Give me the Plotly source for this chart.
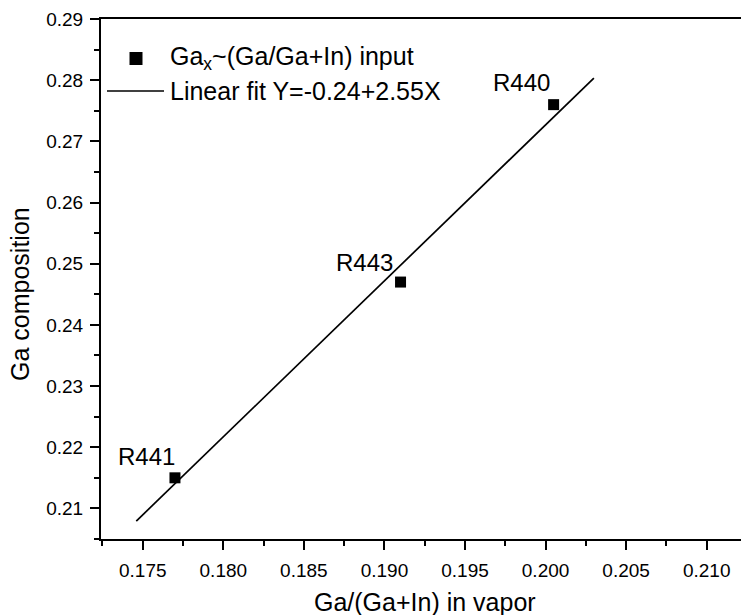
import numpy as np
import plotly.graph_objects as go

# Ga fraction in the vapour phase vs. Ga composition of the grown layers
sample_names = ["R441", "R443", "R440"]
vapor_ga_ratio = [0.1770, 0.1910, 0.2005]
ga_composition = [0.215, 0.247, 0.276]

# Linear fit Y = a + bX and the x span covered by the fit line
fit_intercept = -0.2373
fit_slope = 2.55
fit_x_span = [0.1746, 0.2030]

x_tick_values = [0.175, 0.180, 0.185, 0.190, 0.195, 0.200, 0.205, 0.210]
y_tick_values = [0.21, 0.22, 0.23, 0.24, 0.25, 0.26, 0.27, 0.28, 0.29]

x_title = "Ga/(Ga+In) in vapor"
y_title = "Ga composition"
points_legend = "Ga<sub>x</sub>~(Ga/Ga+In) input"
fit_legend = f"Linear fit Y={fit_intercept:.2f}+{fit_slope:.2f}X"

# ---- page geometry (pixels) ----
W, H = 741, 615
ML, MR, MT, MB = 101, 0, 19, 76
PW, PH = W - ML - MR, H - MT - MB
FONT = "Liberation Sans, Arial, sans-serif"


def px(x):
    return (x - ML) / PW


def py(y):
    return (H - MB - y) / PH


fit_x = np.array(fit_x_span)
fit_y = fit_intercept + fit_slope * fit_x

fig = go.Figure()

fig.add_trace(go.Scatter(
    x=fit_x, y=fit_y, mode="lines",
    line=dict(color="black", width=1.7),
    showlegend=False, hoverinfo="skip",
))

fig.add_trace(go.Scatter(
    x=vapor_ga_ratio, y=ga_composition, mode="markers",
    marker=dict(symbol="square", size=11, color="black"),
    showlegend=False,
))

# sample name labels above-left of each point (pixel offsets)
label_shift = {"R441": (-28, 21), "R443": (-36, 20), "R440": (-32, 22)}
annotations = []
for name, xv, yv in zip(sample_names, vapor_ga_ratio, ga_composition):
    dx, dy = label_shift[name]
    annotations.append(dict(
        x=xv, y=yv, xref="x", yref="y", text=name, showarrow=False,
        xanchor="center", yanchor="middle", xshift=dx, yshift=dy,
        font=dict(family=FONT, size=24, color="black"),
    ))

# axis titles
annotations.append(dict(
    x=px(425), y=py(602), xref="paper", yref="paper", text=x_title,
    showarrow=False, xanchor="center", yanchor="middle",
    font=dict(family=FONT, size=25, color="black"),
))
annotations.append(dict(
    x=px(20), y=py(294), xref="paper", yref="paper", text=y_title,
    showarrow=False, xanchor="center", yanchor="middle", textangle=-90,
    font=dict(family=FONT, size=25, color="black"),
))

# legend entries
annotations.append(dict(
    x=px(168), y=py(58.5), xref="paper", yref="paper", text=points_legend,
    showarrow=False, xanchor="left", yanchor="middle",
    font=dict(family=FONT, size=25, color="black"),
))
annotations.append(dict(
    x=px(168), y=py(91), xref="paper", yref="paper", text=fit_legend,
    showarrow=False, xanchor="left", yanchor="middle",
    font=dict(family=FONT, size=25, color="black"),
))

shapes = [
    dict(type="rect", xref="paper", yref="paper",
         x0=px(129.5), x1=px(142.5), y0=py(65), y1=py(52),
         fillcolor="black", line=dict(width=0)),
    dict(type="line", xref="paper", yref="paper",
         x0=px(107), x1=px(164), y0=py(91), y1=py(91),
         line=dict(color="black", width=1.7)),
]

axis_common = dict(
    showline=True, linecolor="black", linewidth=2,
    ticks="outside", ticklen=9, tickwidth=2, tickcolor="black",
    showgrid=False, zeroline=False,
    tickfont=dict(family=FONT, size=19, color="black"),
)

fig.update_layout(
    width=W, height=H,
    margin=dict(l=ML, r=MR, t=MT, b=MB, pad=0),
    paper_bgcolor="white", plot_bgcolor="white",
    showlegend=False,
    annotations=annotations,
    shapes=shapes,
    xaxis=dict(
        range=[0.17241, 0.21213], tickvals=x_tick_values, tickformat=".3f",
        mirror=True, ticklabelstandoff=4,
        minor=dict(dtick=0.0025, tick0=0.175, ticks="outside", ticklen=5,
                   tickwidth=1.5, tickcolor="black"),
        **axis_common,
    ),
    yaxis=dict(
        range=[0.205, 0.29], tickvals=y_tick_values, tickformat=".2f",
        ticklabelstandoff=3,
        minor=dict(dtick=0.005, tick0=0.21, ticks="outside", ticklen=5,
                   tickwidth=1.5, tickcolor="black"),
        **axis_common,
    ),
)

fig.write_html("out.html")
